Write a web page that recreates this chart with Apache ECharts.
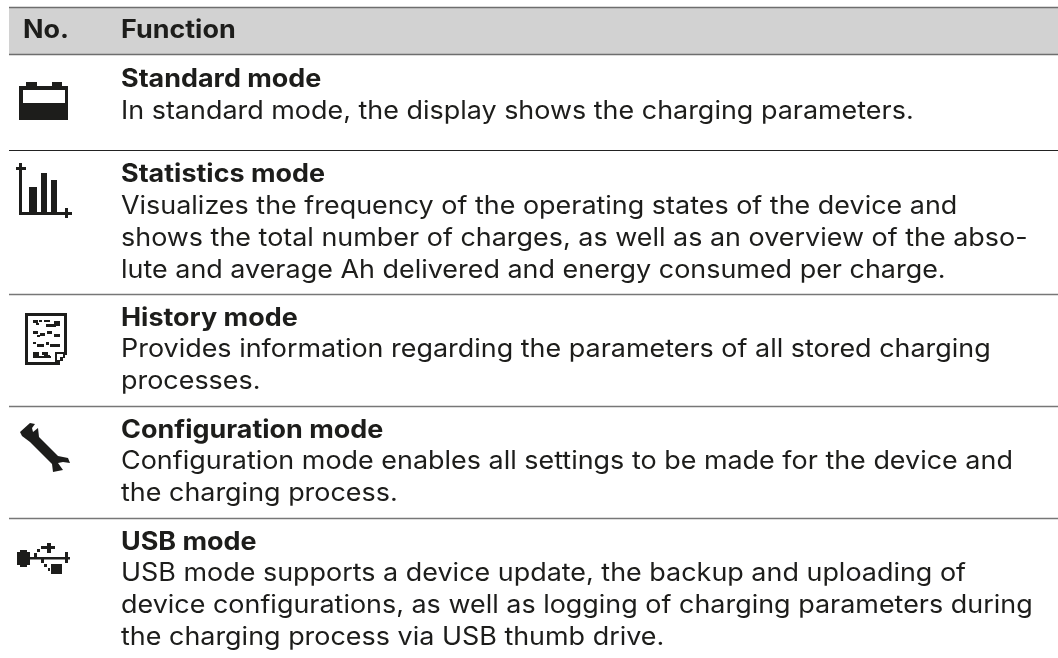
<!DOCTYPE html>
<html><head><meta charset="utf-8">
<style>html,body{margin:0;padding:0;background:#fff}#c{width:1058px;height:658px}</style>
<script src="https://cdn.jsdelivr.net/npm/echarts@6/dist/echarts.min.js"></script>
</head><body><div id="c"></div>
<script>
const columnHeaders = ["No.", "Function"];
const modeTitles = ["Standard mode","Statistics mode","History mode","Configuration mode","USB mode"];
const modeBodies = [
 ["In standard mode, the display shows the charging parameters."],
 ["Visualizes the frequency of the operating states of the device and","shows the total number of charges, as well as an overview of the abso-","lute and average Ah delivered and energy consumed per charge."],
 ["Provides information regarding the parameters of all stored charging","processes."],
 ["Configuration mode enables all settings to be made for the device and","the charging process."],
 ["USB mode supports a device update, the backup and uploading of","device configurations, as well as logging of charging parameters during","the charging process via USB thumb drive."]
];
const FONT = '"Inter","Noto Sans",sans-serif';
const INK = '#1d1d1b';
const titleYs = [79,174,318,430,542];
const bodyYs = [111,206,349,461,573];
const ruleYs = [150,294,406,518];
const g = [];
const rect=(x,y,w,h,fill)=>g.push({type:'rect',shape:{x,y,width:w,height:h},style:{fill:fill||INK},silent:true});
const line=(y,c,w)=>g.push({type:'line',shape:{x1:9,y1:y,x2:1058,y2:y},style:{stroke:c,lineWidth:w||1}});
const text=(x,y,t,bold)=>g.push({type:'text',x,y,scaleX:1.077,style:{text:t,fill:INK,font:(bold?'700 ':'400 ')+'25px '+FONT,textVerticalAlign:'middle'}});
rect(9,7,1049,47,'#d2d2d2');
line(7.5,'#6e6e6e',1.5);line(54.5,'#6e6e6e',1.5);
text(23,30,columnHeaders[0],true);text(121,30,columnHeaders[1],true);
modeTitles.forEach((t,i)=>{
  text(121,titleYs[i],t,true);
  modeBodies[i].forEach((l,j)=>text(121,bodyYs[i]+32*j,l,false));
});
ruleYs.forEach((y,i)=>line(y+.5,i==0?'#222':'#777',i==0?1.2:1.5));
// battery icon
rect(19,86,49,34);rect(23,90,42,13,'#fff');rect(26,82,11,4);rect(52,82,10,4);
// statistics icon
rect(19,163,3,52);rect(19,212,53,3);rect(16,167,10,3);rect(65,208,3,10);
rect(29,187,8,25);rect(41,173,6,39);rect(51,180,6,32);
// history icon
rect(25,313,42,52);rect(28,316,36,46,'#fff');
[[33,320,5,3],[39,320,3,2],[44,320,6,2],[54,321,6,5],[36,323,3,2],[46,324,10,3],
 [33,331,5,3],[40,333,5,3],[47,331,5,3],[54,334,6,3],[37,335,3,2],
 [33,342,3,2],[37,344,7,3],[46,342,3,3],[50,344,10,3],
 [33,352,6,6],[42,352,6,3],[44,355,6,3],[39,356,12,2]].forEach(a=>rect(a[0],a[1],a[2],a[3]));
rect(60,355,7,10,'#fff');rect(55,352,10,2);rect(55,352,2,10);rect(57,360,3,2);rect(60,357,3,4);rect(63,354,2,4);
// wrench
g.push({type:'polygon',shape:{points:[[20,432],[30,423],[35,424],[32,428],[33,432],[38,428],[39,437],[58,456],[68,458],[70,463],[63,462],[58,463],[63,470],[53,472],[52,464],[30,442],[22,436]]},style:{fill:INK}});
// usb
rect(17,552,13,13);rect(20,550,7,17);rect(30,557,40,2.5);rect(65,552,3,11);
rect(34,553,3,5);rect(37,549,3,3);rect(41,546,14,3);rect(47,543,4,10);
rect(41,558,3,5);rect(44,564,3,3);rect(48,568,2,3);rect(51,564,11,10);
const chart=echarts.init(document.getElementById('c'),null,{renderer:'canvas'});
chart.setOption({animation:false,backgroundColor:'#fff',graphic:{elements:g}});
</script></body></html>
